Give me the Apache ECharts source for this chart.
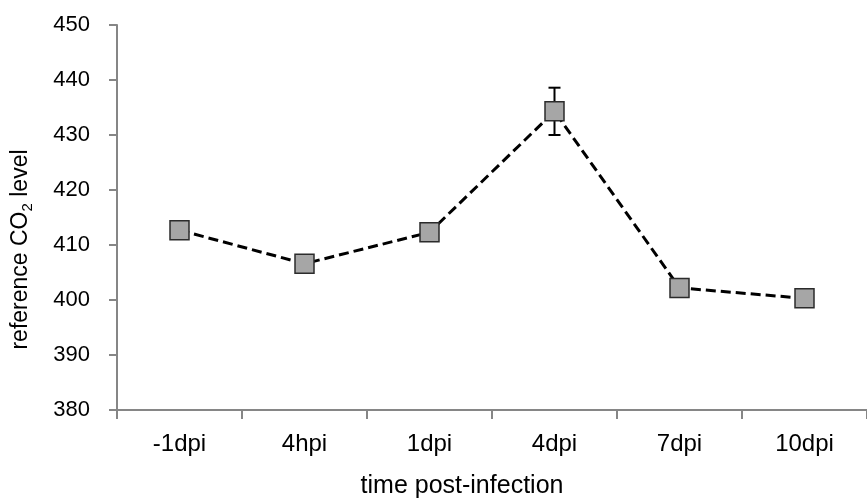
<!DOCTYPE html>
<html>
<head>
<meta charset="utf-8">
<script src="https://cdn.jsdelivr.net/npm/echarts@6/dist/echarts.min.js"></script>
<style>
html, body { margin: 0; padding: 0; background: #fff; }
#chart { width: 867px; height: 504px; }
</style>
</head>
<body>
<div id="chart"></div>
<script>
// categories on the x axis
const timePoints = ['-1dpi', '4hpi', '1dpi', '4dpi', '7dpi', '10dpi']
// mean reference CO2 level at each time point
const co2Mean = [412.7, 406.6, 412.3, 434.3, 402.2, 400.3]
// error (+/-) at each time point
const co2Err = [0, 0, 0, 4.3, 0, 0]
// y axis ticks
const yMin = 380
const yMax = 450
const yStep = 10

const font = 'Liberation Sans'
const axisGrey = '#868686'

let myChart = echarts.init(document.getElementById('chart'))

const errData = timePoints.map((t, i) => [i, co2Mean[i] - co2Err[i], co2Mean[i] + co2Err[i]])

let option = {
  animation: false,
  backgroundColor: '#fff',
  grid: { left: 117, top: 25, width: 758, height: 388 },
  xAxis: {
    type: 'category',
    data: timePoints,
    boundaryGap: true,
    name: 'time post-infection',
    nameLocation: 'middle',
    nameGap: 64,
    nameTextStyle: { fontFamily: font, fontSize: 25, color: '#000', padding: [0, 60, 0, 0] },
    axisLine: { lineStyle: { color: axisGrey, width: 2 } },
    axisTick: { show: true, length: 9, interval: 0, alignWithLabel: false, lineStyle: { color: axisGrey, width: 2 } },
    axisLabel: { fontFamily: font, fontSize: 24, color: '#000', margin: 22, interval: 0 },
    splitLine: { show: false }
  },
  yAxis: {
    type: 'value',
    min: yMin,
    max: yMax,
    interval: yStep,
    name: 'reference CO{sub|2} level',
    nameLocation: 'middle',
    nameGap: 82,
    nameRotate: 90,
    nameTextStyle: {
      fontFamily: font, fontSize: 23, color: '#000', padding: [0, 64, 0, 0],
      rich: { sub: { fontFamily: font, fontSize: 15, color: '#000', padding: [13, 0, 0, 0] } }
    },
    axisLine: { show: true, lineStyle: { color: axisGrey, width: 2 } },
    axisTick: { show: true, length: 8, lineStyle: { color: axisGrey, width: 2 } },
    axisLabel: { fontFamily: font, fontSize: 22, color: '#000', margin: 27 },
    splitLine: { show: false }
  },
  series: [
    {
      name: 'error',
      type: 'custom',
      z: 1,
      data: errData,
      renderItem: function (params, api) {
        const x = api.value(0)
        const lo = api.coord([x, api.value(1)])
        const hi = api.coord([x, api.value(2)])
        const cap = 6
        const st = { stroke: '#000', lineWidth: 2 }
        return {
          type: 'group',
          children: [
            { type: 'line', shape: { x1: lo[0], y1: lo[1], x2: hi[0], y2: hi[1] }, style: st },
            { type: 'line', shape: { x1: lo[0] - cap, y1: lo[1], x2: lo[0] + cap, y2: lo[1] }, style: st },
            { type: 'line', shape: { x1: hi[0] - cap, y1: hi[1], x2: hi[0] + cap, y2: hi[1] }, style: st }
          ]
        }
      }
    },
    {
      name: 'CO2',
      type: 'line',
      z: 3,
      data: co2Mean,
      symbol: 'rect',
      symbolSize: 19,
      lineStyle: { color: '#000', width: 3, type: [10, 5] },
      itemStyle: { color: '#a6a6a6', borderColor: '#2b2b2b', borderWidth: 1.5 }
    }
  ]
}
myChart.setOption(option, true)
</script>
</body>
</html>
